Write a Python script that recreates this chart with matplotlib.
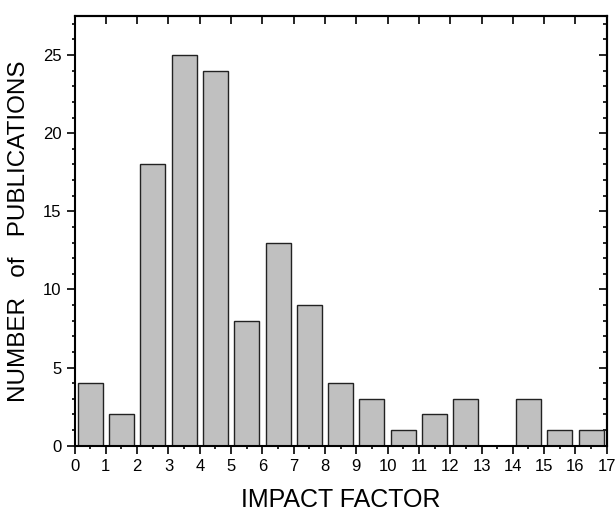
import numpy as np
import matplotlib.pyplot as plt
from matplotlib.ticker import MultipleLocator

plt.rcParams['font.family'] = ['Liberation Sans', 'DejaVu Sans']

# impact factor bins (left edges) and counts
bins = np.arange(17)
counts = [4, 2, 18, 25, 24, 8, 13, 9, 4, 3, 1, 2, 3, 0, 3, 1, 1]

fig = plt.figure(figsize=(6.16, 5.13), dpi=100)
ax = fig.add_axes([0.121, 0.1312, 0.864, 0.8376])

ax.bar(bins + 0.5, counts, width=0.8, color='#c0c0c0', edgecolor='#222222', linewidth=1.0)

ax.set_xlim(0, 17)
ax.set_ylim(0, 27.5)
ax.xaxis.set_major_locator(MultipleLocator(1))
ax.xaxis.set_minor_locator(MultipleLocator(0.5))
ax.yaxis.set_major_locator(MultipleLocator(5))
ax.yaxis.set_minor_locator(MultipleLocator(1))

for s in ax.spines.values():
    s.set_linewidth(1.5)

ax.tick_params(which='major', direction='out', length=5.5, width=1.2, labelsize=12, pad=4)
ax.tick_params(which='minor', direction='out', length=2.5, width=1.2)

# ticks on top and right pointing inwards
top = ax.secondary_xaxis('top')
top.xaxis.set_major_locator(MultipleLocator(1))
top.tick_params(which='major', direction='in', length=6, width=1.2, labeltop=False)
top.spines['top'].set_linewidth(1.5)

right = ax.secondary_yaxis('right')
right.yaxis.set_major_locator(MultipleLocator(5))
right.yaxis.set_minor_locator(MultipleLocator(1))
right.tick_params(which='major', direction='in', length=6, width=1.2, labelright=False)
right.tick_params(which='minor', direction='in', length=3, width=1.2)
right.spines['right'].set_linewidth(1.5)

ax.set_xlabel('IMPACT FACTOR', fontsize=18, labelpad=10.5)
ax.set_ylabel('NUMBER   of   PUBLICATIONS', fontsize=17.5, labelpad=9)

fig.savefig('out.png', dpi=100)
